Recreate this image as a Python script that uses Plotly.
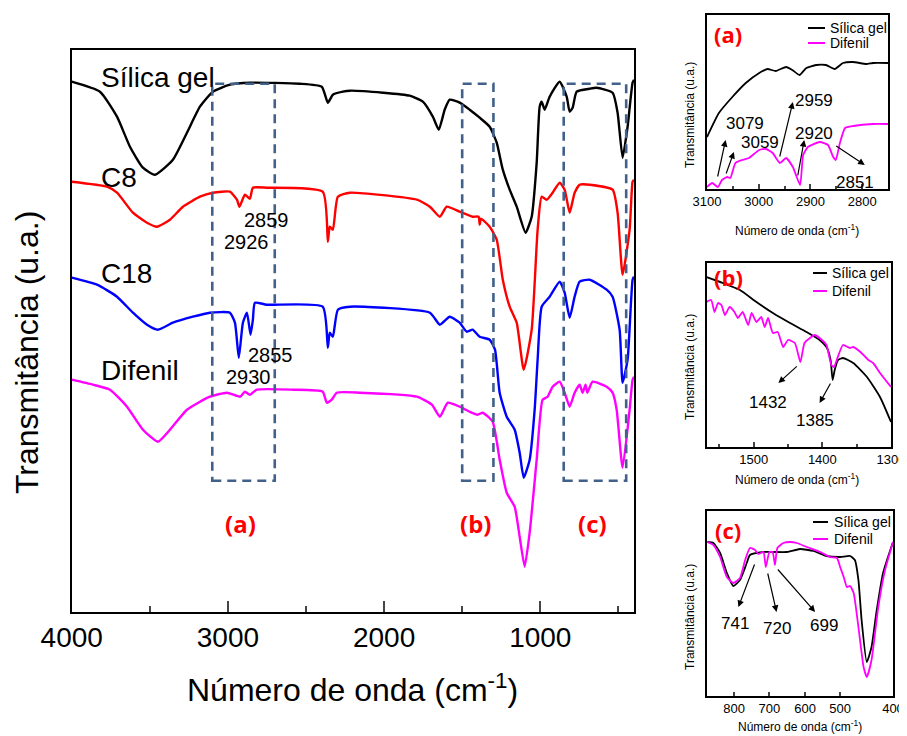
import plotly.graph_objects as go

# the page body adds an 8 px margin, so the figure is drawn 8 px smaller and everything is offset
OFF = 8
W, H = 907 - OFF, 736 - OFF
FONT = "Liberation Sans"

# ---------------- main spectra (wavenumber, transmittance a.u.) ----------------
sil_x = [4000, 3819, 3710, 3627, 3544, 3467, 3352, 3262, 3179, 3096, 2987, 2859, 2540, 2399, 2360, 2328, 2264,
         2219, 2008, 1836, 1752, 1688, 1650, 1612, 1580, 1516, 1452, 1388, 1324, 1279, 1240, 1196, 1151, 1094,
         1055, 1023, 1004, 991, 972, 940, 876, 831, 812, 793, 767, 684, 639, 537, 505, 473, 441, 409, 400]
sil_y = [530, 520, 495, 465, 444, 437, 452, 479, 505, 520, 527, 529, 528, 525, 509, 517, 520,
         521, 519, 516, 510, 495, 482, 502, 512, 509, 502, 494, 485, 469, 442, 422, 405, 379,
         395, 449, 505, 510, 502, 515, 530, 515, 500, 504, 520, 523, 524, 519, 499, 454, 485, 529, 532]

c8_x = [4000, 3774, 3710, 3608, 3518, 3454, 3371, 3288, 3179, 3096, 2987, 2942, 2926, 2891, 2859, 2840, 2751,
        2393, 2360, 2348, 2328, 2296, 2219, 1790, 1707, 1643, 1599, 1516, 1433, 1395, 1388, 1380, 1324, 1279,
        1240, 1196, 1151, 1106, 1055, 1017, 991, 959, 921, 876, 844, 812, 780, 748, 684, 537, 505, 473, 428,
        409, 400]
c8_y = [430, 425, 419, 399, 389, 385, 392, 405, 415, 419, 420, 412, 405, 417, 413, 424, 424,
        420, 370, 385, 382, 415, 419, 412, 405, 395, 405, 400, 395, 395, 387, 393, 385, 372,
        332, 305, 289, 242, 282, 382, 415, 412, 419, 429, 422, 399, 419, 427, 427, 422, 399, 337, 382,
        430, 432]

c18_x = [4000, 3838, 3710, 3608, 3518, 3448, 3352, 3224, 3115, 2987, 2955, 2930, 2904, 2878, 2855, 2840, 2827,
         2751, 2393, 2360, 2348, 2328, 2296, 2219, 1707, 1643, 1580, 1516, 1471, 1433, 1388, 1324, 1290,
         1260, 1215, 1164, 1132, 1106, 1068, 1036, 1017, 991, 940, 876, 844, 812, 780, 748, 684, 575, 537,
         492, 473, 441, 409, 400]
c18_y = [334, 327, 315, 299, 287, 282, 289, 295, 299, 299, 289, 254, 289, 299, 277, 292, 309,
         307, 305, 264, 279, 275, 302, 305, 299, 287, 295, 289, 280, 282, 275, 272, 262,
         219, 195, 182, 159, 134, 152, 202, 252, 305, 315, 330, 319, 294, 315, 330, 332, 322, 315,
         282, 229, 252, 332, 335]

dif_x = [4000, 3864, 3755, 3646, 3544, 3448, 3371, 3262, 3115, 3006, 2921, 2891, 2859, 2815, 2585, 2393, 2367,
         2335, 2303, 2156, 1790, 1694, 1643, 1592, 1516, 1452, 1401, 1369, 1305, 1260, 1215, 1164, 1132, 1100,
         1068, 1023, 985, 953, 921, 876, 844, 812, 780, 748, 729, 710, 699, 665, 575, 537, 511, 473, 428, 409, 400]
dif_y = [232, 227, 222, 205, 182, 170, 182, 202, 215, 219, 215, 220, 217, 222, 222, 220, 209,
         212, 219, 219, 215, 207, 195, 209, 205, 200, 197, 199, 190, 152, 119, 105, 75, 45,
         79, 152, 212, 215, 225, 230, 219, 205, 219, 227, 219, 227, 219, 230, 225, 219, 202, 144, 202, 232, 235]

# ---------------- inset (a) 3100-2750 ----------------
a_sil_x = [3100, 3077, 3051, 3025, 2999, 2983, 2967, 2947, 2935, 2921, 2908, 2889, 2870, 2853, 2837, 2818,
           2792, 2779, 2750]
a_sil_y = [52, 76, 92, 106, 116, 120, 118, 122, 119, 114, 121, 124, 124, 120, 126, 127, 125, 126, 126]
a_dif_x = [3100, 3090, 3079, 3071, 3061, 3055, 3045, 3032, 3019, 2999, 2986, 2973, 2959, 2947, 2934, 2920,
           2914, 2905, 2882, 2866, 2856, 2851, 2843, 2833, 2817, 2779, 2750]
a_dif_y = [2, 6, 2, 9, 12, 11, 26, 29, 31, 39, 40, 36, 26, 31, 22, 4, 34, 42, 47, 44, 32, 29, 46, 61, 63, 65, 65]

# ---------------- inset (b) 1568-1300 ----------------
b_sil_x = [1569, 1545, 1520, 1496, 1472, 1447, 1423, 1404, 1394, 1388, 1385, 1382, 1377, 1370, 1355, 1335,
           1316, 1300]
b_sil_y = [170, 164, 157, 145, 134, 124, 115, 107, 100, 87, 67, 77, 87, 89, 84, 70, 50, 25]
b_dif_x = [1569, 1562, 1557, 1552, 1547, 1542, 1535, 1528, 1523, 1516, 1508, 1503, 1496, 1489, 1484, 1479,
           1472, 1465, 1457, 1450, 1440, 1432, 1426, 1418, 1411, 1404, 1394, 1387, 1383, 1379, 1370, 1360,
           1355, 1343, 1333, 1326, 1316, 1300]
b_dif_y = [145, 147, 135, 144, 142, 132, 140, 135, 129, 135, 122, 134, 125, 130, 120, 129,
           114, 115, 100, 107, 104, 85, 104, 109, 112, 109, 102, 82, 80, 87, 102, 99,
           100, 94, 87, 84, 74, 60]

# ---------------- inset (c) 868-400 ----------------
c_sil_x = [867, 852, 835, 818, 802, 785, 768, 760, 726, 667, 634, 600, 567, 533, 508, 496, 487, 479, 466,
           454, 442, 425, 400]
c_sil_y = [154, 153, 143, 123, 110, 116, 133, 141, 144, 144, 147, 145, 140, 139, 140, 136, 116, 76, 34,
           49, 83, 123, 154]
c_dif_x = [867, 852, 835, 818, 802, 785, 772, 760, 747, 739, 726, 720, 711, 703, 697, 691, 676, 659, 642,
           617, 583, 558, 541, 533, 524, 516, 508, 499, 487, 474, 466, 454, 437, 420, 400]
c_dif_y = [154, 151, 139, 119, 113, 118, 136, 148, 146, 142, 144, 129, 144, 144, 131, 148, 153, 154, 153,
           149, 144, 139, 138, 129, 119, 109, 110, 103, 69, 29, 19, 36, 89, 126, 154]

main_ticks = [4000, 3000, 2000, 1000]
a_ticks = [3100, 3000, 2900, 2800]
b_ticks = [1500, 1400, 1300]
c_tickvals = [800, 711, 621, 533, 400]
c_ticktext = ["800", "700", "600", "500", "400"]


def X(px):
    return (px - OFF) / W


def Y(py):
    return 1 - (py - OFF) / H


fig = go.Figure()
LW = 2.4
for xs, ys, col in [(sil_x, sil_y, "#000000"), (c8_x, c8_y, "#ff0000"),
                    (c18_x, c18_y, "#0000ff"), (dif_x, dif_y, "#ff00ff")]:
    fig.add_trace(go.Scatter(x=xs, y=ys, mode="lines",
                             line=dict(color=col, width=LW, shape="spline", smoothing=0.5),
                             xaxis="x", yaxis="y", showlegend=False))

for xs, ys, col, ax in [(a_sil_x, a_sil_y, "#000000", "2"), (a_dif_x, a_dif_y, "#ff00ff", "2"),
                        (b_sil_x, b_sil_y, "#000000", "3"), (b_dif_x, b_dif_y, "#ff00ff", "3"),
                        (c_sil_x, c_sil_y, "#000000", "4"), (c_dif_x, c_dif_y, "#ff00ff", "4")]:
    fig.add_trace(go.Scatter(x=xs, y=ys, mode="lines",
                             line=dict(color=col, width=1.8, shape="spline", smoothing=0.5),
                             xaxis="x" + ax, yaxis="y" + ax, showlegend=False))

frame = dict(showline=True, linecolor="black", mirror=True, showgrid=False, zeroline=False, automargin=False)

fig.update_layout(
    width=W, height=H, margin=dict(l=0, r=0, t=0, b=0, pad=0, autoexpand=False),
    paper_bgcolor="white", plot_bgcolor="white", showlegend=False,
    font=dict(family=FONT, color="black"),
    xaxis=dict(domain=[X(71.7), X(634)], range=[4000, 400], tickvals=main_ticks, ticks="inside",
               ticklen=11, tickwidth=2, tickfont=dict(size=28), linewidth=2,
               minor=dict(ticks="inside", ticklen=6, tickwidth=2, tickvals=[3500, 2500, 1500, 500]),
               **frame),
    yaxis=dict(domain=[Y(611.7), Y(50)], range=[0, 561.7], showticklabels=False, ticks="", linewidth=2,
               **frame),
    xaxis2=dict(domain=[X(707), X(888)], range=[3100, 2750], tickvals=a_ticks, ticks="inside", ticklen=5,
                tickwidth=1.5, tickfont=dict(size=13), linewidth=1.5, anchor="y2",
                minor=dict(ticks="inside", ticklen=3, tickwidth=1.5, tickvals=[3050, 2950, 2850, 2750]),
                **frame),
    yaxis2=dict(domain=[Y(189), Y(15)], range=[0, 174], showticklabels=False, ticks="", linewidth=1.5,
                anchor="x2", **frame),
    xaxis3=dict(domain=[X(707), X(891)], range=[1568, 1300], tickvals=b_ticks, ticks="inside", ticklen=5,
                tickwidth=1.5, tickfont=dict(size=13), linewidth=1.5, anchor="y3",
                minor=dict(ticks="inside", ticklen=3, tickwidth=1.5, tickvals=[1550, 1450, 1350]),
                **frame),
    yaxis3=dict(domain=[Y(447), Y(263)], range=[0, 184], showticklabels=False, ticks="", linewidth=1.5,
                anchor="x3", **frame),
    xaxis4=dict(domain=[X(707), X(893)], range=[868, 400], tickvals=c_tickvals, ticktext=c_ticktext,
                ticks="inside", ticklen=4, tickwidth=1.5, tickfont=dict(size=13), linewidth=1.5,
                anchor="y4", **frame),
    yaxis4=dict(domain=[Y(696), Y(511)], range=[0, 185], showticklabels=False, ticks="", linewidth=1.5,
                anchor="x4", **frame),
)

# dashed boxes in main plot
BOX = "#41608a"
for x0, x1 in [(3100, 2700), (1500, 1300), (850, 450)]:
    fig.add_shape(type="rect", xref="x", yref="y", x0=x0, x1=x1, y0=131, y1=528,
                  line=dict(color=BOX, width=2.6, dash="9px,6px"))

ann = []


def txt(px, py, s, size, color="black", xanchor="center", angle=0, bold=False, family=FONT):
    ann.append(dict(x=X(px), y=Y(py), xref="paper", yref="paper", text=("<b>%s</b>" % s) if bold else s,
                    showarrow=False, xanchor=xanchor, yanchor="middle", textangle=angle,
                    font=dict(size=size, color=color, family=family)))


# main labels
txt(99, 77, "Sílica gel", 28, xanchor="left")
txt(99, 177, "C8", 28, xanchor="left")
txt(99, 273, "C18", 28, xanchor="left")
txt(99, 370, "Difenil", 28, xanchor="left")
txt(242, 220, "2859", 20, xanchor="left")
txt(222, 242, "2926", 20, xanchor="left")
txt(246, 355, "2855", 20, xanchor="left")
txt(224, 377, "2930", 20, xanchor="left")
for cx, s in [(240, "(a)"), (475, "(b)"), (592, "(c)")]:
    txt(cx, 523, s, 24, color="#ff0000", bold=True, family="Open Sans")
txt(27, 353, "Transmitância (u.a.)", 32, angle=-90)
txt(352, 688, "Número de onda (cm<sup>-1</sup>)", 32)

# inset labels
txt(728, 34, "(a)", 22, color="#ff0000", bold=True, family="Open Sans")
txt(728, 277, "(b)", 22, color="#ff0000", bold=True, family="Open Sans")
txt(728, 530, "(c)", 22, color="#ff0000", bold=True, family="Open Sans")
for cy in [115, 367, 617]:
    txt(690, cy, "Transmitância (u.a.)", 12, angle=-90)
for cx, cy in [(797, 230), (797, 479), (800, 726)]:
    txt(cx, cy, "Número de onda (cm<sup>-1</sup>)", 12)

# inset legends (drawn)
for lx0, lx1, tx, y1, y2 in [(808, 825, 828, 28, 43), (813, 827, 830, 273, 291), (813, 828, 832, 522, 539)]:
    for yy, col, s in [(y1, "#000000", "Sílica gel"), (y2, "#ff00ff", "Difenil")]:
        fig.add_shape(type="line", xref="paper", yref="paper", x0=X(lx0), x1=X(lx1), y0=Y(yy), y1=Y(yy),
                      line=dict(color=col, width=2))
        txt(tx, yy, s, 14, xanchor="left")

# inset peak labels
for cx, cy, s in [(745, 124, "3079"), (760, 142, "3059"), (814, 100, "2959"), (814, 133, "2920"),
                  (855, 182, "2851"), (768, 403, "1432"), (815, 420, "1385"),
                  (735, 623, "741"), (777, 628, "720"), (824, 625, "699")]:
    txt(cx, cy, s, 17)

# inset arrows (tail -> head in data coords)
arrows = [("2", 3080, 11, 3064, 49), ("2", 3064, 14, 3048, 37), ("2", 2960, 31, 2934, 87),
          ("2", 2925, 12, 2912, 49), ("2", 2853, 44, 2795, 24),
          ("3", 1435, 82, 1464, 64), ("3", 1387, 65, 1404, 44),
          ("4", 747, 133, 789, 89), ("4", 716, 124, 693, 84), ("4", 693, 128, 596, 84)]
for axn, tx0, ty0, hx, hy in arrows:
    ann.append(dict(x=hx, y=hy, ax=tx0, ay=ty0, xref="x" + axn, yref="y" + axn, axref="x" + axn,
                    ayref="y" + axn, text="", showarrow=True, arrowhead=2, arrowsize=1.1, arrowwidth=1.2,
                    arrowcolor="black", standoff=0, startstandoff=0))

fig.update_layout(annotations=ann)
fig.write_html("out.html")
